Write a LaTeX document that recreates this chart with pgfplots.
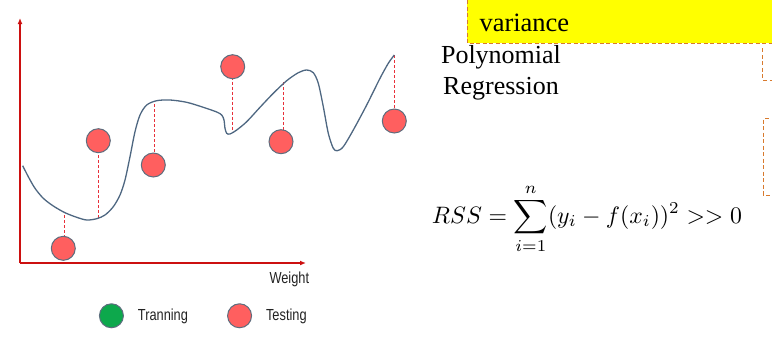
\documentclass[border=0pt]{standalone}
\usepackage[no-math]{fontspec}
\setmainfont{Liberation Serif}
\newfontfamily\sans{Liberation Sans}
\usepackage{graphicx}
\usepackage{pgfplots}
\pgfplotsset{compat=1.18}
\usetikzlibrary{arrows.meta}
\definecolor{axred}{HTML}{CC1010}
\definecolor{dashred}{HTML}{E8303A}
\definecolor{ptred}{HTML}{FF5F5F}
\definecolor{ptedge}{HTML}{5D6D7E}
\definecolor{ptgreen}{HTML}{0DA84C}
\definecolor{curvec}{HTML}{4E6781}
\definecolor{boxorange}{HTML}{D87A2E}
\definecolor{boxyellow}{HTML}{FFFF00}
\newcommand{\lbl}[1]{\scalebox{0.8}[1]{\fontsize{16}{18}\selectfont\sans\color[HTML]{222222}#1}}
\begin{document}
\begin{tikzpicture}
\begin{axis}[
  scale only axis, width=772pt, height=354pt,
  xmin=0, xmax=772, ymin=0, ymax=354, y dir=reverse,
  hide axis, clip=false,
  legend style={at={(axis description cs:0.1288,0.108)}, anchor=west,
    draw=none, fill=none, legend columns=2, inner sep=0pt, outer sep=0pt,
    nodes={inner sep=0pt, anchor=west},
    /tikz/every even column/.append style={column sep=39.6pt}},
  legend image code/.code={%
    \draw[#1] plot coordinates {(12pt,0pt)};
    \path[draw=none, fill=none] (0pt,-12pt) rectangle (38.5pt,12pt);},
]
% yellow box and annotations
\fill[boxyellow] (axis cs:467.3,0) rectangle (axis cs:772,43.3);
\draw[boxorange, line width=1pt, dash pattern=on 4pt off 2.5pt]
  (axis cs:467.3,0) -- (axis cs:467.3,43.3) -- (axis cs:772,43.3);
\draw[boxorange, line width=1pt, dash pattern=on 4pt off 2.5pt]
  (axis cs:762.3,48.3) -- (axis cs:762.3,80) -- (axis cs:772,80);
\draw[boxorange, line width=1pt, dash pattern=on 4pt off 2.5pt]
  (axis cs:768.5,118.3) -- (axis cs:763.3,118.3) -- (axis cs:763.3,195) -- (axis cs:772,195);
\node[anchor=base west, inner sep=0pt] at (axis cs:479.3,31.7) {\fontsize{26.5}{30}\selectfont variance};
\node[anchor=base, inner sep=0pt] at (axis cs:501,63.3) {\fontsize{26}{30}\selectfont Polynomial};
\node[anchor=base, inner sep=0pt] at (axis cs:501,94.3) {\fontsize{26}{30}\selectfont Regression};
\node[anchor=base west, inner sep=0pt] at (axis cs:431.7,223.3)
  {\resizebox{310pt}{!}{$\displaystyle RSS=\sum_{i=1}^{n}(y_i-f(x_i))^2 >> 0$}};
\node[anchor=base west, inner sep=0pt] at (axis cs:269.3,283.3) {\lbl{Weight}};
% axes with arrows
\addplot[forget plot, axred, line width=1.2pt, -{Latex[length=6pt,width=5pt]}]
  coordinates {(20,263) (20,18)};
\addplot[forget plot, axred, line width=1.2pt, -{Latex[length=6pt,width=5pt]}]
  coordinates {(20,263) (306,263)};
% residual dashed lines
\addplot[forget plot, dashred, line width=1pt, dash pattern=on 3pt off 2pt] coordinates {(64.5,215) (64.5,248.3)};
\addplot[forget plot, dashred, line width=1pt, dash pattern=on 3pt off 2pt] coordinates {(98.3,218) (98.3,140.7)};
\addplot[forget plot, dashred, line width=1pt, dash pattern=on 3pt off 2pt] coordinates {(154,104) (154,165)};
\addplot[forget plot, dashred, line width=1pt, dash pattern=on 3pt off 2pt] coordinates {(232.7,66.7) (232.7,131.7)};
\addplot[forget plot, dashred, line width=1pt, dash pattern=on 3pt off 2pt] coordinates {(283.3,82) (283.3,141.7)};
\addplot[forget plot, dashred, line width=1pt, dash pattern=on 3pt off 2pt] coordinates {(394.3,55) (394.3,121)};
% fitted curve
\addplot[forget plot, curvec, line width=1.3pt, smooth, tension=0.5] coordinates {
 (22.7,165.7) (28.3,176.7) (35,188.3) (43.3,198.3) (53.3,206) (65,212.7)
 (76.7,217.3) (86.7,220) (96.7,218.7) (105,215) (113.3,206.7) (120,195)
 (125,180) (130,156.7) (135,131.7) (140,115) (146.7,105) (156.7,100.7)
 (170,100) (186.7,102.3) (203.3,107.3) (216.7,112) (221.7,115) (224,120)
 (225,128.3) (226.7,133.3) (230,134) (236.7,130) (246.7,121.7) (260,107.3)
 (273.3,93.3) (286.7,80.7) (298.3,72.7) (306.7,70) (313.3,72.7) (318.3,83.3)
 (323.3,106.7) (328.3,133.3) (333.3,148.3) (337.3,150.7) (343.3,146.7)
 (353.3,130) (366.7,105) (380,78.3) (388.3,63.3) (394.3,55)};
% legend image for training
\addlegendimage{only marks, mark=*, mark size=12pt, mark options={fill=ptgreen, draw=ptedge, line width=1pt}}
\addlegendentry{\lbl{Tranning}}
% testing points
\addplot[only marks, mark=*, mark size=12pt, mark options={fill=ptred, draw=ptedge, line width=1pt}]
  coordinates {(63.3,248.3) (98.3,140.7) (153.3,165) (232.7,66.7) (281,141.7) (394.3,121)};
\addlegendentry{\lbl{Testing}}
\coordinate (sw) at (axis cs:0,354);
\coordinate (ne) at (axis cs:772,0);
\end{axis}
\pgfresetboundingbox
\path[use as bounding box] (sw) rectangle (ne);
\end{tikzpicture}
\end{document}
